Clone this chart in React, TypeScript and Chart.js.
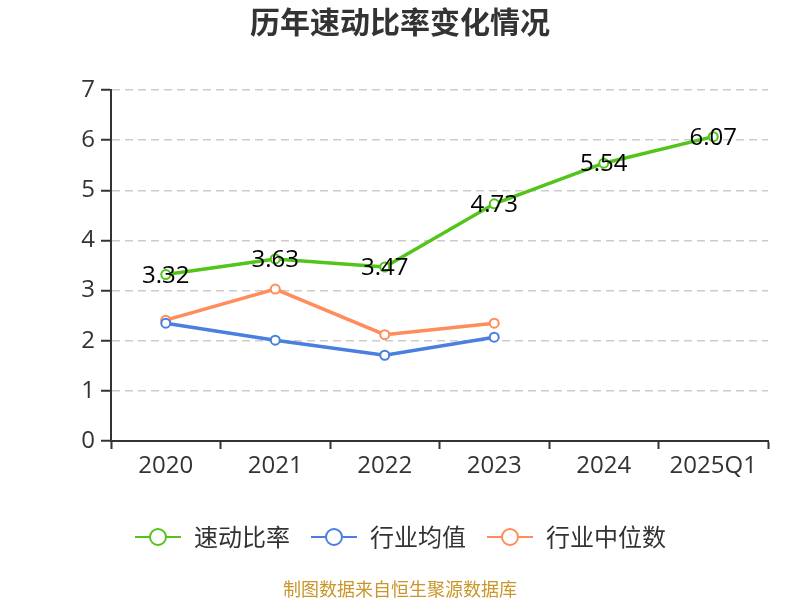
import { useEffect, useRef } from 'react'
import { Chart, ChartConfiguration, Plugin, registerables } from 'chart.js'

Chart.register(...registerables)

const categories = ['2020', '2021', '2022', '2023', '2024', '2025Q1']
const quickRatio = [3.32, 3.63, 3.47, 4.73, 5.54, 6.07]
const industryMean = [2.35, 2.01, 1.71, 2.07, null, null]
const industryMedian = [2.41, 3.03, 2.12, 2.35, null, null]
const yTicks = [0, 1, 2, 3, 4, 5, 6, 7]

const CJK = "'Noto Sans CJK SC', sans-serif"
const NUM = "'Open Sans', 'Noto Sans CJK SC', sans-serif"
const GREEN = '#52c41a'
const BLUE = '#4a7ee0'
const ORANGE = '#ff8c5a'

// legend marker: short line with a hollow circle in the middle
function legendIcon(color: string) {
  const c = document.createElement('canvas')
  c.width = 48
  c.height = 22
  const g = c.getContext('2d')!
  g.strokeStyle = color
  g.lineWidth = 2
  g.beginPath()
  g.moveTo(1, 11)
  g.lineTo(47, 11)
  g.stroke()
  g.beginPath()
  g.arc(24, 11, 8, 0, Math.PI * 2)
  g.fillStyle = '#fff'
  g.fill()
  g.stroke()
  return c
}

const valueLabels: Plugin = {
  id: 'valueLabels',
  afterDatasetsDraw(chart) {
    const ctx = chart.ctx
    const meta = chart.getDatasetMeta(0)
    ctx.save()
    ctx.font = `24px ${NUM}`
    ctx.fillStyle = '#000'
    ctx.textAlign = 'center'
    ctx.textBaseline = 'alphabetic'
    meta.data.forEach((pt, i) => {
      ctx.fillText(quickRatio[i].toFixed(2), pt.x, pt.y + 8)
    })
    ctx.restore()
  },
}

const sourceNote: Plugin = {
  id: 'sourceNote',
  afterDraw(chart) {
    const ctx = chart.ctx
    ctx.save()
    ctx.font = `18px ${CJK}`
    ctx.fillStyle = '#c8962a'
    ctx.textAlign = 'center'
    ctx.textBaseline = 'middle'
    ctx.fillText('制图数据来自恒生聚源数据库', chart.width / 2, 589)
    ctx.restore()
  },
}

export default function App() {
  const chartRef = useRef<HTMLCanvasElement>(null)

  useEffect(() => {
    document.body.style.margin = '0'
    if (!chartRef.current) return
    const ctx = chartRef.current.getContext('2d')
    if (!ctx) return

    const icons = [legendIcon(GREEN), legendIcon(BLUE), legendIcon(ORANGE)]

    const config: ChartConfiguration<'line'> = {
      type: 'line',
      data: {
        labels: categories,
        datasets: [
          { label: '速动比率', data: quickRatio, borderColor: GREEN },
          { label: '行业均值', data: industryMean, borderColor: BLUE },
          { label: '行业中位数', data: industryMedian, borderColor: ORANGE },
        ].map((d) => ({
          ...d,
          backgroundColor: '#fff',
          borderWidth: 3.5,
          pointRadius: 4.5,
          pointBorderWidth: 2,
          pointBackgroundColor: '#fff',
          pointBorderColor: d.borderColor,
          tension: 0,
        })),
      },
      options: {
        responsive: false,
        animation: false,
        layout: { padding: { left: 32, right: 32, top: 4, bottom: 41 } },
        plugins: {
          title: {
            display: true,
            text: '历年速动比率变化情况',
            color: '#333',
            font: { family: CJK, size: 30, weight: 'bold' },
            padding: { top: 0, bottom: 50 },
          },
          legend: {
            position: 'bottom',
            title: { display: true, text: '', font: { size: 1 }, padding: { top: 0, bottom: 20 } },
            labels: {
              usePointStyle: true,
              pointStyleWidth: 48,
              color: '#333',
              font: { family: CJK, size: 24 },
              padding: 20,
              generateLabels: (chart) =>
                chart.data.datasets.map((ds, i) => ({
                  text: ds.label as string,
                  pointStyle: icons[i],
                  datasetIndex: i,
                  fillStyle: '#fff',
                  strokeStyle: ds.borderColor as string,
                  lineWidth: 0,
                  fontColor: '#333',
                })),
            },
          },
          tooltip: { enabled: false },
        },
        scales: {
          x: {
            offset: true,
            grid: {
              offset: true,
              drawOnChartArea: false,
              drawTicks: true,
              tickLength: 8,
              tickColor: '#333',
              tickWidth: 2,
            },
            border: { color: '#333', width: 2 },
            ticks: { color: '#333', font: { family: NUM, size: 24 }, padding: 3 },
          },
          y: {
            min: 0,
            max: 7,
            afterBuildTicks: (axis) => {
              axis.ticks = yTicks.map((v) => ({ value: v }))
            },
            afterFit: (axis) => {
              axis.width = 79
            },
            grid: {
              color: '#ccc',
              lineWidth: 1.5,
              tickLength: 10,
              tickColor: '#333',
              tickWidth: 2,
            },
            border: { color: '#333', width: 2, dash: [8, 5] },
            ticks: { color: '#333', font: { family: NUM, size: 24 }, padding: 6 },
          },
        },
      },
      plugins: [valueLabels, sourceNote],
    }

    const chart = new Chart(ctx, config)
    return () => chart.destroy()
  }, [])

  return <canvas ref={chartRef} width={800} height={600} style={{ display: 'block' }} />
}
